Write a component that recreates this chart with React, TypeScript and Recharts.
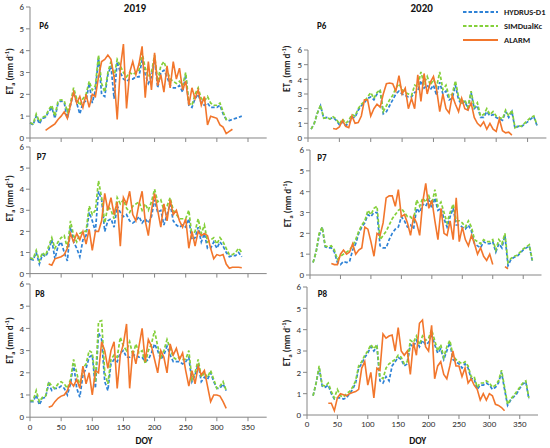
import React from 'react';
import { LineChart, Line, XAxis, YAxis, Legend } from 'recharts';

// ---------- data (ETa, mm/d, sampled every 5 DOY from "start") ----------
const STEP = 5;
const X_TICKS = [0, 50, 100, 150, 200, 250, 300, 350];
const Y_TICKS = [0, 1, 2, 3, 4, 5, 6];
const YEARS = ['2019', '2020'];
const PLOTS = ['P6', 'P7', 'P8'];

const P6_19_HYD_START = 0;
const P6_19_HYD = [
  0.7, 0.6, 1.0, 0.65, 0.9, 0.95, 1.2, 1.4, 0.9, 1.6,
  1.7, 1.6, 0.9, 1.5, 2.1, 1.6, 1.1, 1.6, 1.7, 2.5,
  1.6, 2.2, 3.7, 2.0, 1.9, 2.9, 3.3, 1.8, 3.5, 3.0,
  2.7, 2.6, 2.7, 2.7, 2.8, 2.8, 3.6, 2.9, 2.5, 2.8,
  3.6, 2.3, 3.0, 3.1, 2.8, 2.4, 2.3, 2.3, 2.4, 2.1,
  2.9, 1.5, 1.4, 1.8, 2.0, 1.6, 1.5, 1.6, 1.4, 1.4,
  1.4, 1.5, 1.1, 0.85, 0.8, 0.85, 0.9, 0.95, 1.0,
];
const P6_19_SIM_START = 0;
const P6_19_SIM = [
  0.7, 0.65, 1.1, 0.75, 0.95, 1.0, 1.3, 1.5, 1.0, 1.7,
  1.75, 1.7, 1.2, 1.6, 2.3, 1.8, 1.5, 1.8, 2.0, 2.6,
  2.2, 2.4, 3.8, 2.5, 2.1, 3.0, 3.5, 2.8, 3.6, 3.3,
  3.0, 2.8, 3.0, 2.9, 3.0, 3.1, 3.9, 3.2, 2.8, 3.0,
  3.8, 2.6, 3.3, 3.5, 3.1, 2.7, 2.6, 2.5, 2.6, 2.4,
  3.0, 1.6, 1.5, 2.0, 2.3, 1.8, 1.7, 1.9, 1.6, 1.5,
  1.5, 1.6, 1.2, 0.85, 0.9,
];
const P6_19_ALA_START = 25;
const P6_19_ALA = [
  0.35, 0.45, 0.55, 0.65, 0.85, 1.0, 1.2, 0.9, 1.5, 2.1,
  1.6, 1.9, 1.4, 2.0, 1.4, 2.0, 1.9, 2.8, 3.5, 3.6,
  3.8, 3.6, 2.8, 0.85, 3.2, 4.3, 1.35, 3.0, 3.5, 2.9,
  3.4, 4.2, 1.85, 3.5, 2.2, 3.9, 2.4, 2.9, 2.1, 3.3,
  2.3, 3.5, 2.7, 3.2, 2.2, 2.6, 1.5, 2.3, 1.8, 2.2,
  1.5, 1.9, 0.6, 1.0, 0.95, 0.9, 0.6, 0.5, 0.2, 0.3,
  0.4,
];

const P7_19_HYD_START = 0;
const P7_19_HYD = [
  0.7, 0.65, 1.0, 0.45, 0.9, 0.8, 1.1, 1.6, 0.7, 1.3,
  1.5, 1.0, 0.6, 2.2, 1.5, 1.2, 0.8, 1.6, 1.8, 2.9,
  2.5, 2.0, 3.9, 3.5, 2.0, 2.5, 2.6, 2.2, 3.2, 2.9,
  2.7, 2.8, 2.5, 2.4, 2.5, 2.7, 2.4, 2.6, 2.4, 2.7,
  3.5, 2.9, 3.0, 2.3, 2.8, 3.3, 2.5, 2.3, 2.2, 2.3,
  2.2, 2.6, 1.6, 1.7, 2.2, 1.5, 1.9, 1.2, 1.2, 1.5,
  1.2, 1.5, 1.3, 1.0, 0.8, 0.85, 0.85, 1.0, 0.8,
];
const P7_19_SIM_START = 0;
const P7_19_SIM = [
  0.75, 0.7, 1.1, 0.6, 1.0, 0.85, 1.3, 1.7, 1.2, 1.5,
  1.7, 1.8, 1.2, 2.5, 1.8, 1.5, 1.9, 2.0, 2.0, 3.2,
  2.8, 3.0, 4.4, 3.6, 2.4, 3.2, 3.0, 2.6, 3.6, 3.3,
  3.5, 3.1, 2.9, 3.2, 3.3, 3.4, 3.0, 3.3, 3.0, 3.4,
  4.0, 3.4, 3.5, 3.0, 3.2, 3.6, 3.0, 2.8, 2.6, 2.6,
  2.6, 3.0, 1.8, 2.0, 2.6, 1.9, 2.3, 1.5, 1.6, 1.7,
  1.4, 1.7, 1.5, 1.2, 0.9, 0.9, 1.0, 1.2, 1.0,
];
const P7_19_ALA_START = 30;
const P7_19_ALA = [
  0.45, 0.4, 0.7, 0.75, 0.8, 0.9, 1.2, 1.9, 1.5, 1.9,
  1.6, 2.0, 1.4, 2.1, 1.1, 2.0, 2.0, 2.5, 3.8, 3.0,
  3.6, 2.8, 3.4, 1.3, 3.6, 3.3, 3.9, 2.8, 2.5, 3.3,
  3.9, 2.5, 1.8, 3.0, 3.8, 3.0, 2.2, 3.3, 2.5, 3.5,
  2.8, 3.0, 2.5, 2.2, 2.6, 1.2, 2.0, 1.3, 2.0, 1.8,
  1.9, 1.8, 1.2, 0.7, 0.9, 0.85, 0.9, 0.45, 0.25, 0.3,
  0.3, 0.3, 0.28,
];

const P8_19_HYD_START = 0;
const P8_19_HYD = [
  0.7, 0.7, 1.0, 0.55, 0.85, 0.9, 1.5, 1.2, 1.3, 1.3,
  1.4, 1.3, 1.0, 1.5, 2.4, 1.3, 0.9, 1.9, 2.2, 2.7,
  2.8, 1.3, 3.8, 3.5, 1.6, 1.2, 2.4, 2.6, 2.5, 2.9,
  3.0, 2.7, 2.7, 2.8, 2.8, 2.7, 2.7, 2.5, 2.6, 2.9,
  3.3, 3.0, 2.6, 2.8, 3.2, 2.8, 2.5, 2.5, 2.5, 2.4,
  2.5, 2.7, 1.6, 1.9, 2.4, 1.6, 1.8, 1.7, 2.0, 1.6,
  1.3, 1.3, 1.5, 1.2,
];
const P8_19_SIM_START = 0;
const P8_19_SIM = [
  0.75, 0.75, 1.2, 0.7, 0.9, 0.95, 1.6, 1.4, 1.3, 1.5,
  1.6, 1.5, 1.3, 1.7, 2.6, 2.0, 1.4, 2.2, 2.4, 3.0,
  2.9, 1.6, 4.3, 4.35, 2.0, 1.5, 2.6, 2.8, 2.7, 3.6,
  3.2, 3.0, 3.4, 2.8, 3.3, 2.9, 3.0, 2.4, 3.0, 3.3,
  3.9, 3.2, 2.7, 3.0, 3.5, 3.1, 2.7, 2.6, 2.7, 2.6,
  2.6, 3.0, 1.7, 2.0, 2.6, 1.8, 2.0, 1.8, 2.1, 1.7,
  1.3, 1.4, 1.6, 1.2,
];
const P8_19_ALA_START = 30;
const P8_19_ALA = [
  0.45, 0.5, 0.7, 0.85, 0.95, 1.0, 1.2, 1.6, 1.4, 1.7,
  1.3, 2.3, 1.5, 2.0, 1.0, 2.1, 2.0, 3.4, 3.0, 2.2,
  3.0, 3.4, 1.3, 2.8, 3.3, 4.2, 1.3, 3.0, 2.4, 3.2,
  4.0, 2.5, 3.5, 3.2, 2.6, 2.0, 3.0, 2.7, 2.0, 3.3,
  2.8, 3.1, 2.6, 2.9, 2.1, 1.4, 2.1, 1.5, 2.3, 1.9,
  2.1, 1.4, 0.7, 1.0, 1.0, 0.95, 0.7, 0.4,
];

const P6_20_HYD_START = 5;
const P6_20_HYD = [
  0.6, 1.0, 1.7, 2.2, 1.35, 1.4, 1.3, 1.4, 1.2, 0.9,
  1.1, 0.85, 1.0, 1.4, 1.4, 1.9, 2.2, 2.4, 2.7, 2.8,
  2.6, 3.0, 3.2, 1.65, 1.8, 2.2, 2.6, 3.0, 3.2, 3.0,
  2.9, 2.8, 2.8, 3.1, 3.2, 3.9, 3.4, 3.6, 3.3, 3.6,
  2.9, 3.8, 3.0, 3.2, 2.6, 2.7, 3.6, 2.6, 2.3, 2.5,
  2.0, 3.1, 2.0, 2.2, 1.4, 1.4, 1.8, 1.5, 1.6, 1.4,
  1.3, 1.2, 1.8, 1.4, 1.8, 0.65, 0.8, 0.75, 0.95, 1.1,
  1.3, 1.45, 0.85,
];
const P6_20_SIM_START = 5;
const P6_20_SIM = [
  0.6, 1.0, 1.7, 2.25, 1.35, 1.4, 1.3, 1.45, 1.3, 0.95,
  1.3, 1.0, 1.2, 1.6, 1.5, 2.0, 2.3, 2.5, 2.8, 3.1,
  2.7, 3.1, 3.3, 1.8, 2.2, 2.6, 2.9, 3.4, 3.7, 3.3,
  3.1, 3.0, 2.9, 3.6, 3.5, 4.5, 3.7, 4.2, 3.6, 4.0,
  3.5, 4.5, 3.3, 3.6, 2.8, 3.0, 3.9, 2.8, 2.4, 2.6,
  2.1, 3.2, 2.1, 2.4, 1.5, 1.6, 2.0, 1.6, 1.8, 1.5,
  1.4, 1.3, 1.9, 1.5, 1.9, 0.7, 0.85, 0.8, 1.0, 1.2,
  1.4, 1.5, 0.9,
];
const P6_20_ALA_START = 40;
const P6_20_ALA = [
  0.65, 0.6, 0.75, 1.2, 0.8, 0.7, 1.5, 1.0, 1.05, 1.5,
  2.6, 2.6, 1.5, 2.0, 2.3, 2.1, 3.0, 3.7, 3.75, 3.7,
  3.2, 4.25, 3.0, 3.4, 2.0, 2.7, 2.0, 4.3, 2.5, 4.4,
  3.0, 3.8, 4.2, 3.3, 1.8, 3.0, 2.0, 1.7, 2.9, 2.3,
  1.8, 2.7, 2.0, 1.9, 2.4, 1.4, 1.0, 0.8, 1.1, 0.6,
  1.0, 0.6, 0.45, 1.3, 0.5, 0.35, 0.4, 0.2,
];

const P7_20_HYD_START = 5;
const P7_20_HYD = [
  0.6, 1.1, 1.9, 2.3, 1.35, 1.3, 1.3, 1.1, 0.6, 0.5,
  0.65, 0.6, 0.65, 1.2, 1.5, 2.0, 2.3, 2.5, 2.9, 2.8,
  3.0, 3.0, 1.4, 1.3, 1.3, 1.7, 2.0, 2.2, 2.3, 2.8,
  2.6, 2.3, 2.4, 2.2, 3.2, 3.0, 3.4, 3.3, 3.6, 3.2,
  3.7, 3.1, 3.2, 2.7, 2.3, 2.8, 3.2, 2.4, 2.4, 2.3,
  2.2, 2.4, 2.1, 1.5, 1.4, 1.3, 1.6, 1.5, 1.5, 1.6,
  1.1, 1.5, 1.3, 1.9, 0.45, 0.75, 0.85, 0.9, 1.05, 1.2,
  1.3, 1.4, 0.65,
];
const P7_20_SIM_START = 5;
const P7_20_SIM = [
  0.6, 1.1, 2.0, 2.3, 1.4, 1.35, 1.4, 1.2, 0.75, 0.9,
  1.0, 1.1, 1.2, 1.4, 1.7, 2.1, 2.4, 2.6, 3.1, 2.9,
  3.2, 3.3, 1.7, 1.9, 2.1, 2.4, 2.7, 2.9, 3.1, 3.2,
  3.0, 2.8, 2.8, 2.6, 3.6, 3.3, 3.7, 3.5, 3.8, 3.4,
  4.1, 3.3, 3.5, 3.0, 2.5, 3.0, 3.4, 2.6, 2.6, 2.5,
  2.3, 2.6, 2.3, 1.7, 1.6, 1.5, 1.7, 1.6, 1.6, 1.7,
  1.2, 1.7, 1.5, 2.0, 0.6, 0.8, 0.9, 0.95, 1.1, 1.25,
  1.35, 1.45, 0.7,
];
const P7_20_ALA_START = 35;
const P7_20_ALA = [
  0.55, 0.5, 0.5, 1.0, 1.2, 1.0, 1.1, 1.5, 1.0, 1.2,
  1.3, 2.3, 2.2, 1.6, 0.9, 2.0, 1.9, 2.5, 3.7, 3.8,
  3.8, 3.3, 4.1, 2.8, 2.9, 2.5, 1.9, 2.8, 2.5, 1.9,
  3.5, 4.4, 3.2, 3.6, 2.6, 1.7, 3.2, 2.0, 1.9, 2.6,
  1.7, 3.7, 1.6, 2.3, 1.7, 1.4, 1.9, 1.5, 1.0, 1.3,
  0.9, 0.7, 1.0, 0.5, null, null, null, 0.4, 0.3,
];

const P8_20_HYD_START = 10;
const P8_20_HYD = [
  0.9, 1.5, 2.2, 1.35, 1.3, 1.4, 1.0, 0.75, 0.8, 0.8,
  0.75, 0.8, 1.0, 1.2, 1.5, 2.2, 2.4, 2.7, 2.9, 3.2,
  3.0, 3.2, 1.6, 1.5, 1.8, 1.6, 2.3, 2.5, 2.7, 2.6,
  2.3, 2.4, 3.3, 3.2, 3.5, 3.2, 3.5, 3.3, 3.4, 3.8,
  3.3, 2.9, 3.1, 2.6, 3.0, 3.4, 2.6, 2.5, 2.4, 2.2,
  2.4, 2.2, 1.7, 1.7, 1.2, 1.4, 1.4, 1.5, 1.4, 1.2,
  1.3, 1.5, 2.0, 1.2, 0.45, 0.7, 0.85, 1.0, 1.25, 1.45,
  1.55, 0.75,
];
const P8_20_SIM_START = 10;
const P8_20_SIM = [
  0.9, 1.5, 2.3, 1.4, 1.35, 1.5, 1.1, 0.8, 1.2, 0.9,
  0.85, 1.0, 1.1, 1.3, 1.6, 2.3, 2.5, 2.8, 3.0, 3.3,
  3.1, 3.3, 1.8, 1.7, 2.2, 2.4, 2.5, 2.6, 2.8, 2.7,
  2.4, 2.5, 3.5, 3.4, 3.7, 3.3, 3.7, 3.5, 3.6, 4.0,
  3.5, 3.0, 3.3, 2.7, 3.2, 3.5, 2.8, 2.6, 2.5, 2.4,
  2.5, 2.3, 1.8, 1.8, 1.3, 1.5, 1.5, 1.6, 1.5, 1.3,
  1.4, 1.6, 2.1, 1.3, 0.5, 0.75, 0.9, 1.1, 1.3, 1.5,
  1.6, 0.8,
];
const P8_20_ALA_START = 35;
const P8_20_ALA = [
  0.55, 0.55, 0.2, 0.8, 1.0, 0.95, 0.9, 1.0, 1.05, 1.1,
  1.2, 2.2, 2.5, 1.4, 2.0, 0.8, 2.2, 2.1, 3.8, 3.6,
  3.7, 3.75, 3.0, 4.1, 3.0, 2.8, 3.0, 1.9, 3.4, 2.8,
  4.3, 4.45, 3.2, 3.0, 4.2, 1.7, 2.3, 2.5, 1.9, 1.7,
  2.3, 3.0, 2.3, 2.3, 1.8, 2.2, 1.5, 1.7, 1.4, 1.2,
  0.7, 1.0, 0.7, 1.0, 0.9, 0.5, 0.45, 0.35, 0.2,
];

// ---------- styling ----------
const BLUE = '#2e82d6';
const GREEN = '#84d03a';
const ORANGE = '#f2762c';
const AXIS = '#868686';
const FONT = 'Carlito, Lato, "Liberation Sans", sans-serif';

const SERIES = [
  { key: 'hyd', name: 'HYDRUS-D1', color: BLUE, dash: '3.5 2' },
  { key: 'sim', name: 'SIMDualKc', color: GREEN, dash: '3.5 2' },
  { key: 'ala', name: 'ALARM', color: ORANGE, dash: undefined as string | undefined },
];

type Row = { doy: number; hyd: number | null; sim: number | null; ala: number | null };

function valueAt(start: number, values: (number | null)[], doy: number): number | null {
  const i = (doy - start) / STEP;
  return i >= 0 && i < values.length ? values[i] : null;
}

function buildRows(
  hs: number, h: (number | null)[],
  ss: number, s: (number | null)[],
  as: number, a: (number | null)[],
): Row[] {
  const rows: Row[] = [];
  for (let d = 0; d <= 365; d += STEP) {
    rows.push({ doy: d, hyd: valueAt(hs, h, d), sim: valueAt(ss, s, d), ala: valueAt(as, a, d) });
  }
  return rows;
}

const DATA: Row[][] = [
  buildRows(P6_19_HYD_START, P6_19_HYD, P6_19_SIM_START, P6_19_SIM, P6_19_ALA_START, P6_19_ALA),
  buildRows(P7_19_HYD_START, P7_19_HYD, P7_19_SIM_START, P7_19_SIM, P7_19_ALA_START, P7_19_ALA),
  buildRows(P8_19_HYD_START, P8_19_HYD, P8_19_SIM_START, P8_19_SIM, P8_19_ALA_START, P8_19_ALA),
  buildRows(P6_20_HYD_START, P6_20_HYD, P6_20_SIM_START, P6_20_SIM, P6_20_ALA_START, P6_20_ALA),
  buildRows(P7_20_HYD_START, P7_20_HYD, P7_20_SIM_START, P7_20_SIM, P7_20_ALA_START, P7_20_ALA),
  buildRows(P8_20_HYD_START, P8_20_HYD, P8_20_SIM_START, P8_20_SIM, P8_20_ALA_START, P8_20_ALA),
];

// panel layout: plot box (page px), y-title baseline x / centre y, tag centre
const PANELS = [
  { l: 30, r: 266.7, t: 6.7, b: 137.7, lx: 13, ly: 71, tx: 44, ty: 25, bottom: false },
  { l: 30, r: 266.7, t: 146.7, b: 273.3, lx: 13, ly: 198, tx: 41.5, ty: 156, bottom: false },
  { l: 30, r: 266.7, t: 283.5, b: 416.7, lx: 13, ly: 340, tx: 40, ty: 292.7, bottom: true },
  { l: 308.3, r: 546.7, t: 8.3, b: 138.3, lx: 290, ly: 69, tx: 321.7, ty: 25, bottom: false },
  { l: 309.5, r: 541, t: 150, b: 275, lx: 290, ly: 204, tx: 322, ty: 157.3, bottom: false },
  { l: 307.3, r: 538.3, t: 287, b: 415, lx: 290, ly: 343, tx: 322.5, ty: 293, bottom: true },
];

const YW = 25;
const ML = 5;
const MT = 7;
const MR = 3;

const LegendBox = () => (
  <div style={{ fontFamily: FONT, fontSize: 8.5, fontWeight: 700, color: '#222' }}>
    {SERIES.map((s) => (
      <div key={s.key} style={{ display: 'flex', alignItems: 'center', height: 14 }}>
        <svg width={35} height={6} style={{ display: 'block' }}>
          <line x1={0} y1={3} x2={35} y2={3} stroke={s.color} strokeWidth={1.8} strokeDasharray={s.dash} />
        </svg>
        <span style={{ marginLeft: 6, whiteSpace: 'nowrap' }}>{s.name}</span>
      </div>
    ))}
  </div>
);

function Panel({ idx }: { idx: number }) {
  const p = PANELS[idx];
  const rows = DATA[idx];
  const xh = p.bottom ? 18 : 6;
  const left = p.l - YW - ML;
  const top = p.t - MT;
  const width = ML + YW + (p.r - p.l) + MR;
  const height = MT + (p.b - p.t) + xh;
  const cx = p.lx - left;
  const cy = p.ly - top;
  const yTitle = () => (
    <text
      x={cx}
      y={cy}
      transform={`rotate(-90 ${cx} ${cy})`}
      textAnchor="middle"
      fontFamily={FONT}
      fontSize={9}
      fontWeight={700}
      fill="#222"
    >
      <tspan>ET</tspan>
      <tspan fontSize={6.5} dy={2}>a</tspan>
      <tspan dy={-2}>{'  (mm d'}</tspan>
      <tspan fontSize={6.5} dy={-3.5}>-1</tspan>
      <tspan dy={3.5}>)</tspan>
    </text>
  );
  return (
    <div style={{ position: 'absolute', left, top, width, height }}>
      <LineChart width={width} height={height} data={rows} margin={{ top: MT, right: MR, bottom: 0, left: ML }}>
        <XAxis
          dataKey="doy"
          type="number"
          domain={[0, 380]}
          ticks={X_TICKS}
          interval={0}
          height={xh}
          tickSize={4}
          tickMargin={2}
          stroke={AXIS}
          axisLine={{ stroke: AXIS }}
          tickLine={{ stroke: AXIS }}
          tick={p.bottom ? { fontSize: 9, fill: '#333', fontFamily: FONT } : () => <g />}
        />
        <YAxis
          type="number"
          domain={[0, 6]}
          ticks={Y_TICKS}
          interval={0}
          width={YW}
          tickSize={4}
          tickMargin={2}
          stroke={AXIS}
          axisLine={{ stroke: AXIS }}
          tickLine={{ stroke: AXIS }}
          tick={{ fontSize: 9, fill: '#333', fontFamily: FONT }}
          label={yTitle}
        />
        {SERIES.map((s) => (
          <Line
            key={s.key}
            type="linear"
            dataKey={s.key}
            name={s.name}
            stroke={s.color}
            strokeWidth={s.key === 'ala' ? 1.6 : 1.7}
            strokeDasharray={s.dash}
            dot={false}
            activeDot={false}
            connectNulls={false}
            isAnimationActive={false}
          />
        ))}
        {idx === 3 && (
          <Legend
            layout="vertical"
            align="center"
            verticalAlign="top"
            content={() => <LegendBox />}
            wrapperStyle={{ position: 'absolute', left: 463 - left, top: 12 - 7 - top, width: 90 }}
          />
        )}
      </LineChart>
    </div>
  );
}

const textStyle = (x: number, y: number, size: number): React.CSSProperties => ({
  position: 'absolute',
  left: x,
  top: y,
  transform: 'translate(-50%, -50%)',
  fontFamily: FONT,
  fontWeight: 700,
  fontSize: size,
  lineHeight: 1,
  color: '#111',
  whiteSpace: 'nowrap',
});

export default function App() {
  return (
    <div style={{ position: 'absolute', left: 0, top: 0, width: 550, height: 448, background: '#fff', overflow: 'hidden' }}>
      {PANELS.map((_, i) => (
        <Panel key={i} idx={i} />
      ))}
      <div style={textStyle(135, 8, 11)}>{YEARS[0]}</div>
      <div style={textStyle(421.7, 8, 11)}>{YEARS[1]}</div>
      {PANELS.map((p, i) => (
        <div key={'t' + i} style={textStyle(p.tx, p.ty, 9)}>{PLOTS[i % 3]}</div>
      ))}
      <div style={textStyle(144, 441.7, 9.5)}>DOY</div>
      <div style={textStyle(417.7, 442, 9.5)}>DOY</div>
    </div>
  );
}
